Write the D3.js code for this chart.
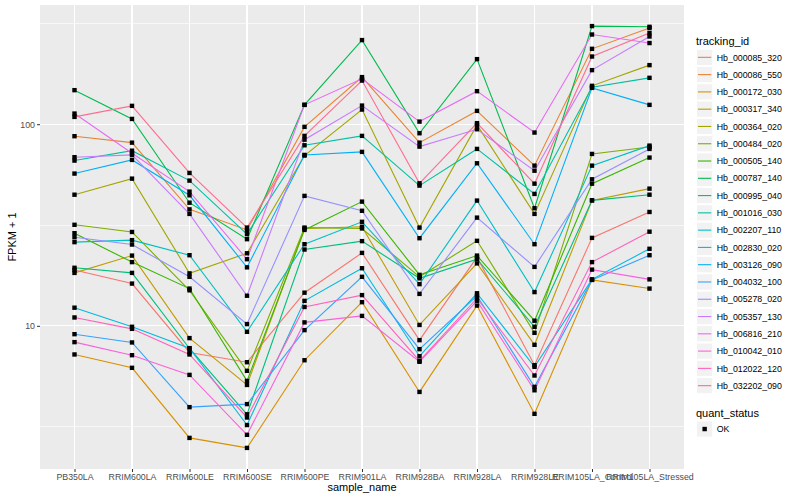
<!DOCTYPE html>
<html>
<head>
<meta charset="utf-8">
<script src="https://cdn.jsdelivr.net/npm/d3@7"></script>
<style>
  body { margin: 0; background: #fff; }
  text { font-family: "Liberation Sans", Arial, sans-serif; }
</style>
</head>
<body>
<div id="the_chart"></div>
<script>
// samples along the x axis
var samples = ["PB350LA", "RRIM600LA", "RRIM600LE", "RRIM600SE", "RRIM600PE", "RRIM901LA",
               "RRIM928BA", "RRIM928LA", "RRIM928LE", "RRIM105LA_Control", "RRIM105LA_Stressed"];
// genes (legend order)
var genes = ["Hb_000085_320", "Hb_000086_550", "Hb_000172_030", "Hb_000317_340", "Hb_000364_020",
             "Hb_000484_020", "Hb_000505_140", "Hb_000787_140", "Hb_000995_040", "Hb_001016_030",
             "Hb_002207_110", "Hb_002830_020", "Hb_003126_090", "Hb_004032_100", "Hb_005278_020",
             "Hb_005357_130", "Hb_006816_210", "Hb_010042_010", "Hb_012022_120", "Hb_032202_090"];
var colors = ["#F8766D", "#EA8331", "#D89000", "#C09B00", "#A3A500", "#7CAE00", "#39B600", "#00BB4E",
              "#00BF7D", "#00C1A3", "#00BFC4", "#00BAE0", "#00B0F6", "#35A2FF", "#9590FF", "#C77CFF",
              "#E76BF3", "#FA62DB", "#FF62BC", "#FF6C91"];
// FPKM + 1, one row per gene, one value per sample
var fpkm = [
  [18.9, 16.2, 7.38, 6.60, 14.6, 23.0, 8.49, 21.9, 6.38, 27.3, 36.7],
  [87.2, 81.0, 37.8, 29.9, 97.0, 171.2, 81.0, 116.4, 62.3, 236.5, 299.7],
  [7.21, 6.19, 2.78, 2.48, 6.75, 13.1, 4.70, 12.6, 3.66, 16.9, 15.3],
  [18.3, 22.3, 8.69, 5.09, 30.4, 31.0, 10.1, 20.4, 8.05, 41.9, 47.9],
  [44.7, 53.7, 18.2, 22.9, 69.9, 118.2, 30.7, 99.2, 35.9, 155.0, 196.3],
  [31.7, 29.2, 15.0, 5.98, 30.7, 30.4, 17.5, 26.4, 9.23, 71.2, 77.1],
  [28.8, 20.7, 15.3, 5.33, 29.9, 41.3, 17.9, 22.3, 10.6, 50.7, 68.3],
  [147.5, 106.2, 40.8, 26.9, 124.7, 261.3, 90.2, 210.2, 38.3, 306.6, 304.1],
  [19.4, 18.3, 7.72, 3.64, 23.9, 26.3, 17.2, 21.4, 9.89, 41.9, 44.7],
  [66.0, 73.9, 52.5, 28.5, 78.6, 87.5, 49.6, 75.4, 45.1, 152.6, 169.8],
  [26.0, 26.6, 22.4, 9.34, 25.4, 32.8, 16.1, 41.8, 14.7, 62.3, 78.3],
  [12.3, 9.89, 7.75, 3.22, 13.3, 19.3, 7.07, 14.5, 6.26, 17.0, 24.1],
  [56.9, 66.5, 44.4, 19.5, 70.4, 72.9, 27.2, 64.0, 25.4, 151.4, 124.7],
  [9.09, 8.27, 3.95, 4.09, 9.52, 17.5, 7.66, 14.1, 4.98, 16.9, 22.4],
  [27.5, 25.3, 17.5, 10.2, 44.1, 37.2, 14.4, 34.4, 19.6, 53.3, 75.4],
  [68.6, 70.4, 35.9, 14.1, 83.8, 123.7, 77.4, 94.4, 58.8, 185.4, 272.3],
  [112.9, 71.8, 46.3, 21.4, 124.7, 167.8, 103.0, 145.8, 90.9, 278.5, 252.6],
  [8.30, 7.15, 5.71, 2.88, 10.4, 11.2, 6.63, 13.3, 4.79, 19.0, 17.0],
  [11.0, 9.66, 7.21, 3.51, 12.4, 14.2, 6.70, 13.7, 5.67, 20.7, 29.3],
  [108.7, 123.3, 57.3, 30.7, 87.5, 164.6, 50.9, 101.2, 50.7, 216.6, 283.0]
];
var yticks = [10, 100];
var yminor = [Math.pow(10, 0.5), Math.pow(10, 1.5), Math.pow(10, 2.5)];

var w = 800, h = 500;
var pLeft = 40, pRight = 684, pTop = 5, pBottom = 469;

var svg = d3.select("#the_chart").append("svg")
            .attr("width", w).attr("height", h);

var xscale = d3.scalePoint().domain(samples).range([pLeft, pRight]).padding(0.6);

// log scale with 5% expansion like ggplot
var all = d3.merge(fpkm);
var lo = Math.log10(d3.min(all)), hi = Math.log10(d3.max(all));
var ex = (hi - lo) * 0.05;
var yscale = d3.scaleLog().domain([Math.pow(10, lo - ex), Math.pow(10, hi + ex)]).range([pBottom, pTop]);

// panel
svg.append("rect").attr("x", pLeft).attr("y", pTop)
   .attr("width", pRight - pLeft).attr("height", pBottom - pTop).attr("fill", "#EBEBEB");

var grid = svg.append("g").attr("stroke", "#fff").attr("shape-rendering", "crispEdges");
grid.selectAll(".minor").data(yminor).enter().append("line")
    .attr("x1", pLeft).attr("x2", pRight)
    .attr("y1", function(d){ return yscale(d); }).attr("y2", function(d){ return yscale(d); })
    .attr("stroke-width", 0.6);
grid.selectAll(".majy").data(yticks).enter().append("line")
    .attr("x1", pLeft).attr("x2", pRight)
    .attr("y1", function(d){ return yscale(d); }).attr("y2", function(d){ return yscale(d); })
    .attr("stroke-width", 1.1);
grid.selectAll(".majx").data(samples).enter().append("line")
    .attr("y1", pTop).attr("y2", pBottom)
    .attr("x1", function(d){ return xscale(d); }).attr("x2", function(d){ return xscale(d); })
    .attr("stroke-width", 1.1);

// lines, one per gene
var line = d3.line()
  .x(function(d, i){ return xscale(samples[i]); })
  .y(function(d){ return yscale(d); });

svg.append("g").selectAll("path").data(fpkm).enter().append("path")
   .attr("d", line)
   .attr("fill", "none")
   .attr("stroke", function(d, i){ return colors[i]; })
   .attr("stroke-width", 1.1);

// points
var pts = [];
fpkm.forEach(function(row){
  row.forEach(function(v, i){ pts.push({s: samples[i], v: v}); });
});
svg.append("g").selectAll("rect").data(pts).enter().append("rect")
   .attr("x", function(d){ return xscale(d.s) - 2.2; })
   .attr("y", function(d){ return yscale(d.v) - 2.2; })
   .attr("width", 4.4).attr("height", 4.4)
   .attr("fill", "#000");

// axes
var yaxis = d3.axisLeft(yscale).tickValues(yticks).tickFormat(d3.format("d"))
              .tickSize(3).tickPadding(2).tickSizeOuter(0);
var gy = svg.append("g").attr("transform", "translate(" + pLeft + ",0)").call(yaxis);
var xaxis = d3.axisBottom(xscale).tickSize(3).tickPadding(2).tickSizeOuter(0);
var gx = svg.append("g").attr("transform", "translate(0," + pBottom + ")").call(xaxis);
[gy, gx].forEach(function(g){
  g.select(".domain").remove();
  g.selectAll(".tick line").attr("stroke", "#333333");
  g.selectAll(".tick text").attr("fill", "#4D4D4D").style("font-size", "8.8px")
   .style("font-family", "'Liberation Sans', Arial, sans-serif");
});

svg.append("text").attr("x", (pLeft + pRight) / 2).attr("y", 491)
   .attr("text-anchor", "middle").style("font-size", "11px").text("sample_name");
svg.append("text").attr("transform", "translate(16," + ((pTop + pBottom) / 2) + ") rotate(-90)")
   .attr("text-anchor", "middle").style("font-size", "11px").text("FPKM + 1");

// legend: tracking_id
var lg = svg.append("g").attr("transform", "translate(696,0)");
lg.append("text").attr("x", 0).attr("y", 44.5).style("font-size", "11px").text("tracking_id");
var keyH = 17.28, key0 = 48.7;
var keys = lg.selectAll(".key").data(genes).enter().append("g")
  .attr("transform", function(d, i){ return "translate(0," + (key0 + i * keyH) + ")"; });
keys.append("rect").attr("x", 0.5).attr("y", 0.5).attr("width", keyH - 1).attr("height", keyH - 1)
    .attr("fill", "#F2F2F2").attr("stroke", "#fff");
keys.append("line").attr("x1", 2).attr("x2", keyH - 2)
    .attr("y1", keyH / 2).attr("y2", keyH / 2)
    .attr("stroke", function(d, i){ return colors[i]; }).attr("stroke-width", 1.1);
keys.append("text").attr("x", keyH + 3.5).attr("y", keyH / 2 + 3.2)
    .style("font-size", "8.8px").text(function(d){ return d; });

// legend: quant_status
lg.append("text").attr("x", 0).attr("y", 416.7).style("font-size", "11px").text("quant_status");
var ok = lg.append("g").attr("transform", "translate(0,420.4)");
ok.append("rect").attr("x", 0.5).attr("y", 0.5).attr("width", keyH - 1).attr("height", keyH - 1)
  .attr("fill", "#F2F2F2").attr("stroke", "#fff");
ok.append("rect").attr("x", keyH / 2 - 2.2).attr("y", keyH / 2 - 2.2).attr("width", 4.4).attr("height", 4.4)
  .attr("fill", "#000");
ok.append("text").attr("x", keyH + 3.5).attr("y", keyH / 2 + 3.2).style("font-size", "8.8px").text("OK");
</script>
</body>
</html>
